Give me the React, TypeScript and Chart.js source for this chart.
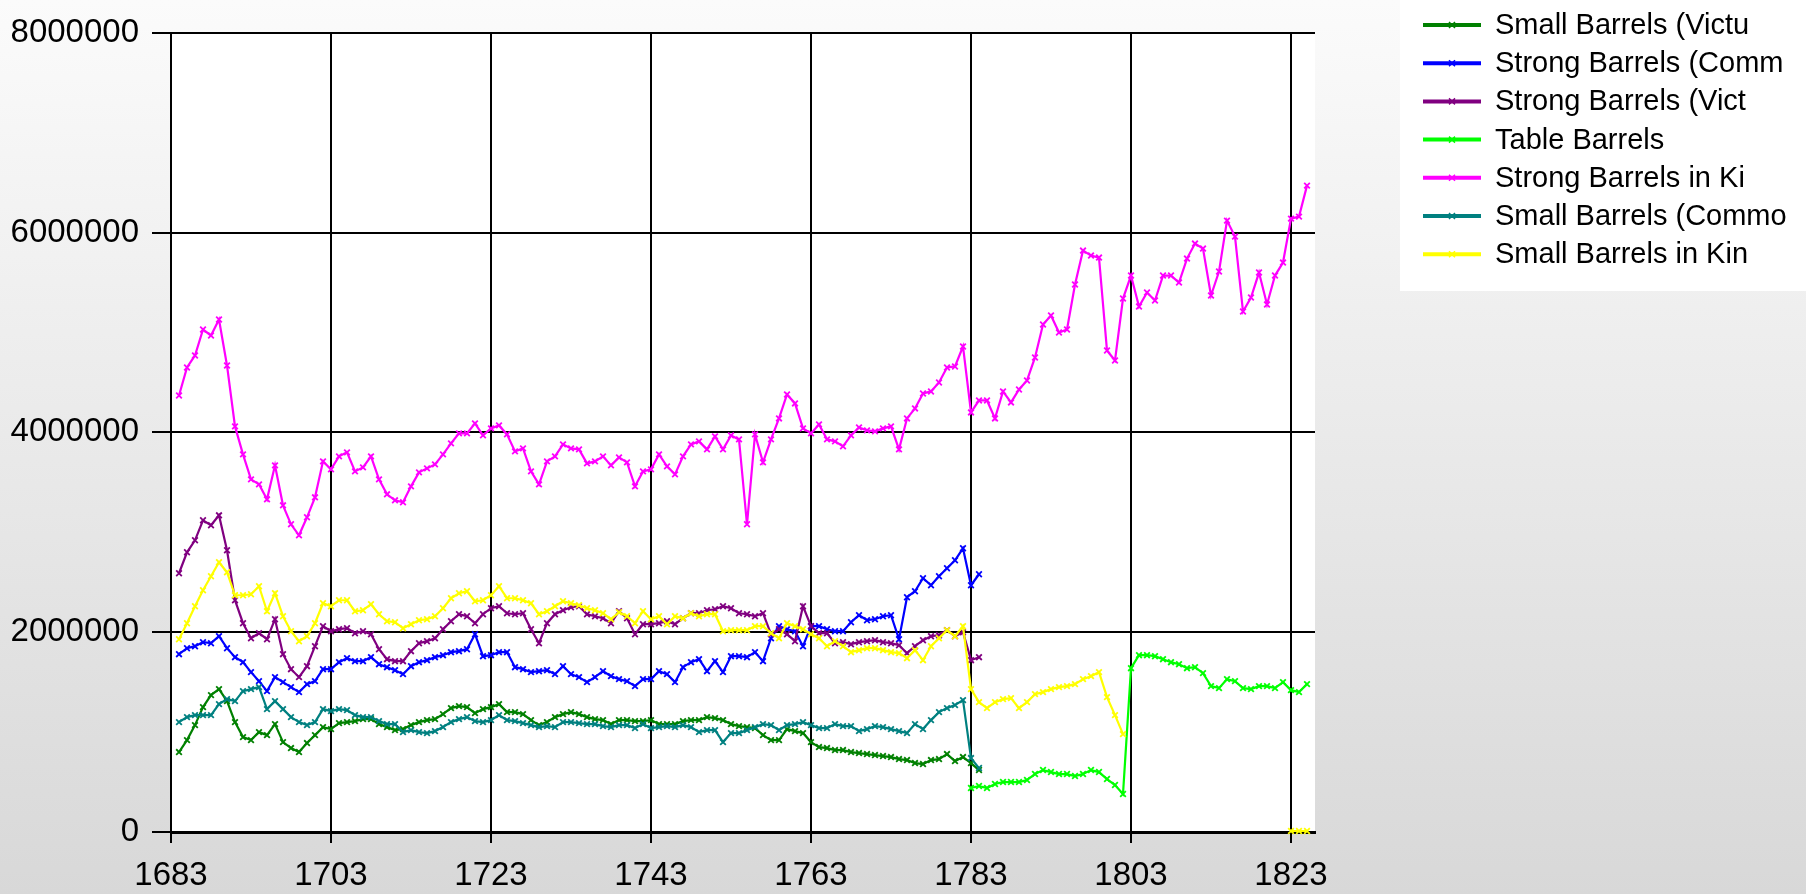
import React, { useEffect, useRef } from 'react';
import { Chart, registerables } from 'chart.js';

Chart.register(...registerables);

// ---------- axis data ----------
const X_MIN = 1683;
const X_MAX = 1826;
const X_TICKS = [1683, 1703, 1723, 1743, 1763, 1783, 1803, 1823];
const Y_MIN = 0;
const Y_MAX = 8000000;
const Y_STEP = 2000000;

// ---------- series ----------
const SERIES_NAMES = [
  'Small Barrels (Victu',
  'Strong Barrels (Comm',
  'Strong Barrels (Vict',
  'Table Barrels',
  'Strong Barrels in Ki',
  'Small Barrels (Commo',
  'Small Barrels in Kin',
];
const SERIES_COLORS = ['#008000', '#0000ff', '#800080', '#00ff00', '#ff00ff', '#008080', '#ffff00'];

const START_1684 = 1684; // first year of most series
const START_TABLE = 1783; // first year of Table Barrels

// 1684 - 1784
const smallBarrelsVictualling = [
  800000, 920000, 1070000, 1250000, 1370000, 1430000, 1310000, 1100000, 950000, 920000,
  1000000, 970000, 1080000, 900000, 840000, 800000, 890000, 970000, 1050000, 1030000,
  1090000, 1100000, 1110000, 1130000, 1130000, 1080000, 1050000, 1020000, 1030000, 1070000,
  1100000, 1120000, 1130000, 1180000, 1240000, 1260000, 1250000, 1190000, 1230000, 1250000,
  1280000, 1200000, 1200000, 1180000, 1120000, 1070000, 1100000, 1150000, 1180000, 1200000,
  1180000, 1150000, 1130000, 1120000, 1080000, 1120000, 1120000, 1110000, 1110000, 1120000,
  1080000, 1080000, 1080000, 1110000, 1120000, 1120000, 1150000, 1140000, 1120000, 1080000,
  1060000, 1050000, 1040000, 970000, 920000, 920000, 1030000, 1010000, 990000, 900000,
  850000, 840000, 820000, 820000, 800000, 790000, 780000, 770000, 760000, 750000,
  730000, 720000, 690000, 680000, 720000, 730000, 780000, 710000, 750000, 690000,
  620000,
];

// 1684 - 1784
const strongBarrelsCommon = [
  1780000, 1840000, 1860000, 1900000, 1890000, 1960000, 1840000, 1750000, 1700000, 1600000,
  1510000, 1410000, 1550000, 1500000, 1450000, 1400000, 1480000, 1510000, 1630000, 1630000,
  1700000, 1740000, 1710000, 1710000, 1750000, 1680000, 1650000, 1620000, 1580000, 1660000,
  1700000, 1720000, 1750000, 1770000, 1800000, 1810000, 1830000, 1980000, 1760000, 1770000,
  1800000, 1800000, 1650000, 1630000, 1600000, 1610000, 1620000, 1580000, 1660000, 1580000,
  1550000, 1500000, 1550000, 1610000, 1560000, 1530000, 1510000, 1460000, 1530000, 1530000,
  1610000, 1580000, 1500000, 1650000, 1700000, 1730000, 1610000, 1710000, 1600000, 1760000,
  1760000, 1750000, 1800000, 1710000, 1940000, 2060000, 2030000, 2010000, 1860000, 2060000,
  2060000, 2030000, 2010000, 2010000, 2100000, 2170000, 2120000, 2130000, 2160000, 2170000,
  1930000, 2350000, 2410000, 2540000, 2470000, 2560000, 2640000, 2720000, 2840000, 2470000,
  2580000,
];

// 1684 - 1784
const strongBarrelsVictualling = [
  2590000, 2800000, 2920000, 3120000, 3070000, 3170000, 2820000, 2320000, 2090000, 1940000,
  1990000, 1930000, 2130000, 1780000, 1630000, 1550000, 1660000, 1860000, 2060000, 2010000,
  2030000, 2040000, 1990000, 2010000, 1980000, 1830000, 1730000, 1710000, 1710000, 1810000,
  1890000, 1910000, 1940000, 2030000, 2110000, 2180000, 2160000, 2090000, 2180000, 2240000,
  2260000, 2190000, 2180000, 2190000, 2030000, 1890000, 2090000, 2180000, 2220000, 2250000,
  2260000, 2180000, 2160000, 2140000, 2090000, 2210000, 2140000, 1980000, 2080000, 2080000,
  2090000, 2110000, 2080000, 2140000, 2190000, 2190000, 2220000, 2230000, 2260000, 2240000,
  2190000, 2180000, 2160000, 2190000, 1980000, 2030000, 1980000, 1910000, 2260000, 2060000,
  1990000, 1990000, 1890000, 1900000, 1880000, 1900000, 1910000, 1920000, 1900000, 1890000,
  1870000, 1790000, 1860000, 1920000, 1960000, 1970000, 2020000, 1960000, 2000000, 1720000,
  1750000,
];

// 1783 - 1825
const tableBarrels = [
  440000, 460000, 440000, 480000, 500000, 500000, 500000, 520000, 580000, 620000,
  600000, 580000, 580000, 560000, 580000, 620000, 600000, 530000, 470000, 380000,
  1640000, 1770000, 1770000, 1760000, 1730000, 1700000, 1680000, 1640000, 1650000, 1590000,
  1460000, 1440000, 1530000, 1510000, 1440000, 1430000, 1460000, 1460000, 1440000, 1500000,
  1420000, 1400000, 1480000,
];

// 1684 - 1825
const strongBarrelsKing = [
  4370000, 4650000, 4770000, 5030000, 4970000, 5130000, 4670000, 4060000, 3780000, 3530000,
  3480000, 3330000, 3670000, 3270000, 3080000, 2970000, 3150000, 3350000, 3710000, 3630000,
  3760000, 3800000, 3610000, 3650000, 3760000, 3530000, 3380000, 3320000, 3300000, 3460000,
  3600000, 3640000, 3680000, 3780000, 3890000, 3990000, 3990000, 4090000, 3970000, 4040000,
  4070000, 3980000, 3810000, 3840000, 3610000, 3480000, 3710000, 3760000, 3880000, 3840000,
  3830000, 3690000, 3710000, 3760000, 3670000, 3750000, 3700000, 3460000, 3610000, 3630000,
  3780000, 3660000, 3580000, 3760000, 3880000, 3910000, 3830000, 3960000, 3830000, 3970000,
  3930000, 3080000, 3980000, 3700000, 3930000, 4140000, 4380000, 4290000, 4040000, 3990000,
  4080000, 3930000, 3910000, 3860000, 3970000, 4050000, 4020000, 4010000, 4040000, 4060000,
  3830000, 4140000, 4240000, 4390000, 4410000, 4500000, 4650000, 4660000, 4860000, 4200000,
  4320000, 4320000, 4140000, 4410000, 4300000, 4430000, 4520000, 4750000, 5080000, 5170000,
  5000000, 5030000, 5480000, 5820000, 5770000, 5750000, 4820000, 4720000, 5340000, 5570000,
  5260000, 5400000, 5320000, 5570000, 5570000, 5500000, 5740000, 5890000, 5840000, 5370000,
  5610000, 6120000, 5960000, 5210000, 5350000, 5600000, 5280000, 5570000, 5700000, 6140000,
  6160000, 6470000,
];

// 1684 - 1784
const smallBarrelsCommon = [
  1100000, 1150000, 1170000, 1170000, 1170000, 1280000, 1330000, 1310000, 1410000, 1430000,
  1450000, 1230000, 1310000, 1230000, 1150000, 1100000, 1070000, 1100000, 1230000, 1210000,
  1230000, 1220000, 1170000, 1150000, 1150000, 1110000, 1080000, 1080000, 1000000, 1020000,
  1000000, 990000, 1010000, 1050000, 1100000, 1130000, 1150000, 1110000, 1100000, 1120000,
  1170000, 1120000, 1110000, 1090000, 1070000, 1050000, 1060000, 1050000, 1100000, 1100000,
  1090000, 1080000, 1080000, 1060000, 1050000, 1070000, 1070000, 1040000, 1080000, 1040000,
  1050000, 1060000, 1050000, 1070000, 1050000, 1000000, 1020000, 1020000, 900000, 990000,
  990000, 1020000, 1050000, 1080000, 1070000, 1020000, 1070000, 1080000, 1100000, 1070000,
  1040000, 1040000, 1080000, 1060000, 1060000, 1010000, 1030000, 1060000, 1050000, 1030000,
  1010000, 990000, 1080000, 1030000, 1120000, 1200000, 1240000, 1270000, 1320000, 740000,
  640000,
];

// 1684 - 1825 (gap 1803 - 1822)
const smallBarrelsKing = [
  1930000, 2090000, 2260000, 2420000, 2560000, 2700000, 2600000, 2370000, 2370000, 2380000,
  2460000, 2210000, 2390000, 2160000, 2010000, 1910000, 1960000, 2090000, 2290000, 2260000,
  2320000, 2320000, 2210000, 2220000, 2280000, 2180000, 2110000, 2100000, 2040000, 2080000,
  2120000, 2130000, 2160000, 2240000, 2340000, 2390000, 2410000, 2310000, 2320000, 2370000,
  2460000, 2340000, 2340000, 2320000, 2290000, 2180000, 2210000, 2260000, 2310000, 2290000,
  2270000, 2240000, 2220000, 2190000, 2130000, 2200000, 2160000, 2090000, 2210000, 2130000,
  2160000, 2080000, 2160000, 2140000, 2190000, 2160000, 2180000, 2180000, 2010000, 2020000,
  2020000, 2020000, 2060000, 2060000, 1990000, 1940000, 2090000, 2060000, 2030000, 1980000,
  1940000, 1860000, 1910000, 1860000, 1800000, 1820000, 1840000, 1840000, 1820000, 1800000,
  1790000, 1740000, 1820000, 1720000, 1860000, 1940000, 2020000, 1960000, 2060000, 1430000,
  1300000, 1240000, 1300000, 1330000, 1340000, 1240000, 1300000, 1380000, 1400000, 1430000,
  1450000, 1460000, 1480000, 1530000, 1560000, 1600000, 1350000, 1170000, 980000,
  null, null, null, null, null, null, null, null, null, null,
  null, null, null, null, null, null, null, null, null, null,
  10000, 10000, 10000,
];

const SERIES_VALUES = [
  smallBarrelsVictualling,
  strongBarrelsCommon,
  strongBarrelsVictualling,
  tableBarrels,
  strongBarrelsKing,
  smallBarrelsCommon,
  smallBarrelsKing,
];
const SERIES_STARTS = [START_1684, START_1684, START_1684, START_TABLE, START_1684, START_1684, START_1684];

function hasFont(name: string): boolean {
  const c = document.createElement('canvas').getContext('2d');
  if (!c) return false;
  const sample = 'Small Barrels 0123456789';
  c.font = `40px monospace`;
  const a = c.measureText(sample).width;
  c.font = `40px "${name}", monospace`;
  const b = c.measureText(sample).width;
  return Math.abs(a - b) > 0.5;
}

export default function App() {
  const canvasRef = useRef<HTMLCanvasElement | null>(null);

  useEffect(() => {
    const canvas = canvasRef.current;
    if (!canvas) return;
    const narrow = hasFont('Liberation Sans Narrow');
    const family = narrow ? '"Liberation Sans Narrow", "Liberation Sans", Arial, sans-serif' : '"Liberation Sans", Arial, sans-serif';
    const tickSize = narrow ? 38 : 33;
    const legendSize = narrow ? 35 : 29;
    const xPad = narrow ? 9 : 13;

    const backgroundPlugin = {
      id: 'bgAndLegend',
      beforeDraw(chart: any) {
        const { ctx, width, height, chartArea } = chart;
        ctx.save();
        const g = ctx.createLinearGradient(0, 0, 0, height);
        g.addColorStop(0, '#fbfbfb');
        g.addColorStop(1, '#d8d8d8');
        ctx.fillStyle = g;
        ctx.fillRect(0, 0, width, height);
        ctx.fillStyle = '#ffffff';
        ctx.fillRect(chartArea.left, chartArea.top, chartArea.right - chartArea.left, chartArea.bottom - chartArea.top);

        // legend box
        ctx.fillStyle = '#ffffff';
        ctx.fillRect(1400, 0, width - 1400, 291);
        chart.data.datasets.forEach((ds: any, i: number) => {
          const y = 25 + i * 38.2;
          ctx.strokeStyle = ds.borderColor;
          ctx.lineWidth = 4;
          ctx.beginPath();
          ctx.moveTo(1423, y);
          ctx.lineTo(1481, y);
          ctx.stroke();
          ctx.lineWidth = 1.5;
          ctx.beginPath();
          ctx.moveTo(1449, y - 3);
          ctx.lineTo(1455, y + 3);
          ctx.moveTo(1455, y - 3);
          ctx.lineTo(1449, y + 3);
          ctx.stroke();
          ctx.fillStyle = '#000000';
          ctx.font = `${legendSize}px ${family}`;
          ctx.textBaseline = 'middle';
          ctx.textAlign = 'left';
          ctx.fillText(ds.label, 1495, y + 1);
        });
        ctx.restore();
      },
    };

    const datasets = SERIES_VALUES.map((vals, i) => ({
      label: SERIES_NAMES[i],
      data: vals.map((v, k) => ({ x: SERIES_STARTS[i] + k, y: v })),
      borderColor: SERIES_COLORS[i],
      backgroundColor: SERIES_COLORS[i],
      borderWidth: 2.2,
      pointStyle: 'crossRot' as const,
      pointRadius: 4,
      pointBorderWidth: 1.8,
      pointBorderColor: SERIES_COLORS[i],
      pointHoverRadius: 4,
      tension: 0,
      spanGaps: false,
      fill: false,
      clip: false as any,
      order: SERIES_VALUES.length - i,
    }));

    const chart = new Chart(canvas, {
      type: 'line',
      data: { datasets },
      plugins: [backgroundPlugin],
      options: {
        animation: false,
        responsive: false,
        maintainAspectRatio: false,
        devicePixelRatio: 1,
        layout: { padding: { top: 25, right: 491, bottom: 0, left: 0 } },
        plugins: {
          legend: { display: false },
          tooltip: { enabled: false },
          title: { display: false },
        },
        scales: {
          x: {
            type: 'linear',
            min: X_MIN,
            max: X_MAX,
            afterBuildTicks: (scale: any) => {
              scale.ticks = X_TICKS.map((v) => ({ value: v }));
            },
            afterFit: (scale: any) => {
              scale.height = 62;
            },
            ticks: {
              autoSkip: false,
              maxRotation: 0,
              minRotation: 0,
              color: '#000000',
              padding: xPad,
              font: { family, size: tickSize },
              callback: (v: any) => String(v),
            },
            grid: {
              color: '#000000',
              lineWidth: 2,
              tickLength: 11,
              drawTicks: true,
            },
            border: { display: true, color: '#000000', width: 3 },
          },
          y: {
            type: 'linear',
            min: Y_MIN,
            max: Y_MAX,
            afterFit: (scale: any) => {
              scale.width = 171;
            },
            ticks: {
              stepSize: Y_STEP,
              color: '#000000',
              padding: 13,
              font: { family, size: tickSize },
              callback: (v: any) => String(v),
            },
            grid: {
              color: '#000000',
              lineWidth: 2,
              tickLength: 19,
              drawTicks: true,
            },
            border: { display: true, color: '#000000', width: 2 },
          },
        },
      },
    });

    return () => {
      chart.destroy();
    };
  }, []);

  return (
    <div style={{ position: 'fixed', left: 0, top: 0, width: 1806, height: 894, overflow: 'hidden' }}>
      <canvas ref={canvasRef} width={1806} height={894} style={{ display: 'block', width: 1806, height: 894 }} />
    </div>
  );
}
